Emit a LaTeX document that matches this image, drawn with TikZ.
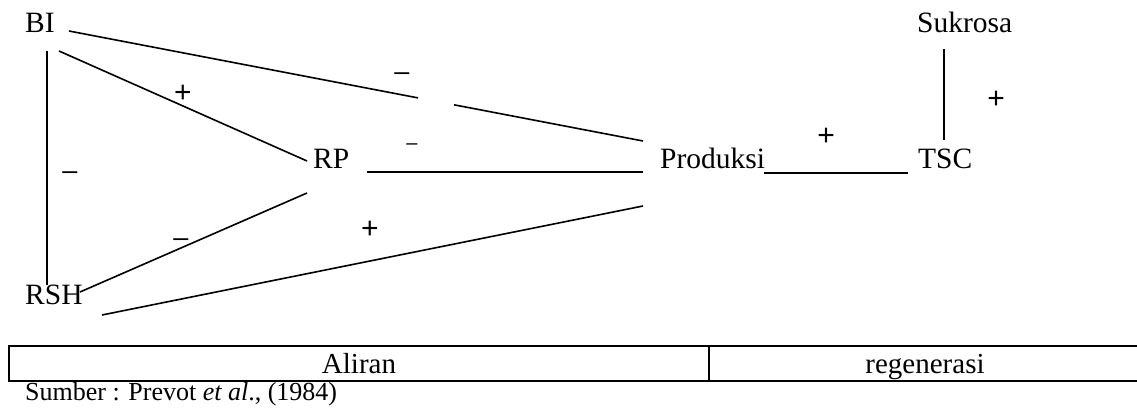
\documentclass[tikz,border=0pt]{standalone}
\usepackage{fontspec}
\setmainfont{Liberation Serif}
\newfontfamily\signfont{Liberation Sans}
\begin{document}
\begin{tikzpicture}[x=1pt,y=-1pt,
  lbl/.style={inner sep=0pt,anchor=base west,font=\fontsize{29.5}{30}\selectfont},
  tbl/.style={inner sep=0pt,anchor=base,font=\fontsize{29}{30}\selectfont},
  sgn/.style={inner sep=0pt,anchor=base,font=\signfont\fontsize{27}{28}\selectfont},
  plus/.style={inner sep=0pt,anchor=base,font=\signfont\fontsize{30}{32}\selectfont},
  sgnsmall/.style={inner sep=0pt,anchor=base,font=\signfont\fontsize{20}{22}\selectfont},
  conn/.style={line width=1.6pt},
  frame/.style={line width=2.6pt}]
\useasboundingbox (0,0) rectangle (1137,412);
% nodes
\node[lbl] (BI) at (25,33) {BI};
\node[lbl] (SUK) at (917,33) {Sukrosa};
\node[lbl] (RP) at (313,168) {RP};
\node[lbl] (PROD) at (660,168) {Produksi};
\node[lbl] (TSC) at (918,168) {TSC};
\node[lbl] (RSH) at (25,304) {RSH};
% connector end points
\coordinate (BI-e1) at (69,31);
\coordinate (gapA) at (418,97.9);
\coordinate (gapB) at (454,104.8);
\coordinate (PROD-w1) at (643,141);
\coordinate (BI-e2) at (59,51);
\coordinate (RP-nw) at (307,161);
\coordinate (BI-s) at (47,51);
\coordinate (RSH-n) at (47,285);
\coordinate (RP-e) at (367,172);
\coordinate (PROD-w2) at (643,172);
\coordinate (RP-sw) at (307,193);
\coordinate (RSH-e) at (80,292);
\coordinate (RSH-se) at (102,315);
\coordinate (PROD-w3) at (643,206);
\coordinate (PROD-e) at (764,173);
\coordinate (TSC-w) at (908,173);
\coordinate (SUK-s) at (944,49);
\coordinate (TSC-n) at (944,140);
% connectors
\draw[conn] (BI-e1) -- (gapA);
\draw[conn] (gapB) -- (PROD-w1);
\draw[conn] (BI-e2) -- (RP-nw);
\draw[conn] (BI-s) -- (RSH-n);
\draw[conn] (RP-e) -- (PROD-w2);
\draw[conn] (RP-sw) -- (RSH-e);
\draw[conn] (RSH-se) -- (PROD-w3);
\draw[conn] (PROD-e) -- (TSC-w);
\draw[conn] (SUK-s) -- (TSC-n);
% signs
\node[sgn] (s1) at (402,80.5) {–};
\node[plus] (s2) at (183,102.5) {+};
\node[sgn] (s3) at (70,179.5) {–};
\node[sgnsmall] (s4) at (412,149.5) {–};
\node[sgn] (s5) at (181,246.5) {–};
\node[plus] (s6) at (370,238.5) {+};
\node[plus] (s7) at (826,145.5) {+};
\node[plus] (s8) at (996,108.5) {+};
% table
\coordinate (T-nw) at (9,346);
\coordinate (T-se) at (1141,381);
\coordinate (T-divn) at (709,346);
\coordinate (T-divs) at (709,381);
\draw[frame] (T-nw) rectangle (T-se);
\draw[frame] (T-divn) -- (T-divs);
\node[tbl] (ALIRAN) at (359,373) {Aliran};
\node[tbl] (REGEN) at (925,373) {regenerasi};
\node[inner sep=0pt,anchor=base west,font=\fontsize{26}{28}\selectfont] (SRC) at (25,400) {Sumber : Prevot \textit{et al}., (1984)};
\end{tikzpicture}
\end{document}
